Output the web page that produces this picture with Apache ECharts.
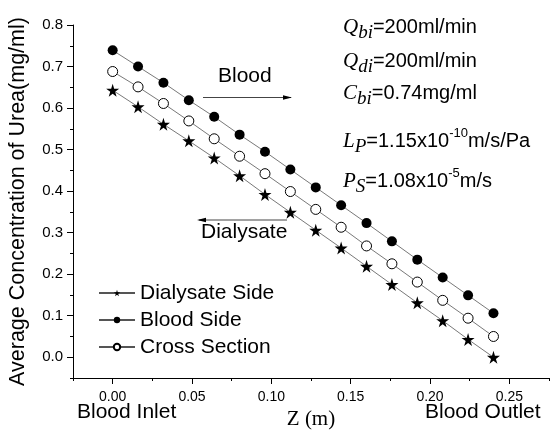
<!DOCTYPE html>
<html>
<head>
<meta charset="utf-8">
<script src="https://cdn.jsdelivr.net/npm/echarts@6/dist/echarts.min.js"></script>
<style>
  html, body { margin: 0; padding: 0; background: #fff; }
  #main { width: 555px; height: 430px; }
</style>
</head>
<body>
<div id="main"></div>
<script>
  // positions along the dialyser (m)
  var zValues = [0, 0.016, 0.032, 0.048, 0.064, 0.080, 0.096, 0.112, 0.128, 0.144, 0.160, 0.176, 0.192, 0.208, 0.224, 0.240];
  var dialysateSide = [0.643, 0.603, 0.561, 0.521, 0.480, 0.437, 0.392, 0.349, 0.306, 0.263, 0.219, 0.175, 0.131, 0.088, 0.043, 0.000];
  var bloodSide = [0.739, 0.700, 0.661, 0.619, 0.579, 0.536, 0.495, 0.452, 0.409, 0.366, 0.323, 0.279, 0.235, 0.192, 0.149, 0.106];
  var crossSection = [0.688, 0.651, 0.611, 0.569, 0.526, 0.484, 0.442, 0.399, 0.356, 0.313, 0.268, 0.225, 0.181, 0.137, 0.094, 0.050];
  var xTicks = [0, 0.05, 0.10, 0.15, 0.20, 0.25];
  var yTicks = [0, 0.1, 0.2, 0.3, 0.4, 0.5, 0.6, 0.7, 0.8];

  var sans = 'Liberation Sans';
  var serif = 'Liberation Serif';
  var star = 'path://M50,0 L61,35 L98,35 L68,57 L79,91 L50,70 L21,91 L32,57 L2,35 L39,35 Z';

  function pairs(ys) {
    return ys.map(function (v, i) { return [zValues[i], v]; });
  }

  var lineStyle = { color: '#555', width: 0.8 };

  // rich styles for the parameter block
  var paramRich = {
    v: { fontFamily: serif, fontStyle: 'italic', fontSize: 21, lineHeight: 36, verticalAlign: 'middle' },
    s: { fontFamily: serif, fontStyle: 'italic', fontSize: 19, lineHeight: 19, verticalAlign: 'bottom', padding: [0, 0, 3, 0] },
    t: { fontFamily: sans, fontSize: 20, lineHeight: 36, verticalAlign: 'middle' },
    p: { fontFamily: sans, fontSize: 13, lineHeight: 13, verticalAlign: 'top', padding: [4, 0, 0, 0] }
  };
  function param(top, text) {
    return { type: 'text', left: 343, top: top, style: { text: text, rich: paramRich, fill: '#000' } };
  }

  var myChart = echarts.init(document.getElementById('main'));
  myChart.setOption({
    animation: false,
    backgroundColor: '#fff',
    textStyle: { fontFamily: sans, color: '#000' },
    grid: { left: 73, right: 6, top: 25, bottom: 52, containLabel: false, outerBoundsMode: 'none' },
    legend: {
      orient: 'vertical',
      left: 93,
      top: 277,
      itemWidth: 36,
      itemHeight: 8,
      itemGap: 5,
      textStyle: { fontFamily: sans, fontSize: 21, color: '#000', lineHeight: 22 },
      data: ['Dialysate Side', 'Blood Side', 'Cross Section']
    },
    xAxis: [
      {
        type: 'value',
        min: -0.025,
        max: 0.275,
        position: 'bottom',
        name: 'Z (m)',
        nameLocation: 'middle',
        nameGap: 25,
        nameTextStyle: { fontFamily: serif, fontSize: 21, color: '#000' },
        axisLine: { onZero: false, lineStyle: { color: '#000', width: 1 } },
        axisTick: { customValues: xTicks, length: 6, lineStyle: { color: '#000' } },
        axisLabel: {
          customValues: xTicks,
          fontSize: 14,
          color: '#000',
          margin: 12,
          formatter: function (v) { return v.toFixed(2); }
        },
        splitLine: { show: false }
      },
      {
        type: 'value',
        min: -0.025,
        max: 0.275,
        interval: 0.025,
        position: 'bottom',
        axisLine: { show: false, onZero: false },
        axisTick: { length: 3, lineStyle: { color: '#000' } },
        axisLabel: { show: false },
        splitLine: { show: false }
      }
    ],
    yAxis: [
      {
        type: 'value',
        min: -0.05,
        max: 0.8,
        position: 'left',
        name: 'Average Concentration of Urea(mg/ml)',
        nameLocation: 'middle',
        nameGap: 44,
        nameTextStyle: { fontFamily: sans, fontSize: 21.5, color: '#000' },
        axisLine: { show: true, onZero: false, lineStyle: { color: '#000', width: 1 } },
        axisTick: { show: true, customValues: yTicks, length: 6, lineStyle: { color: '#000' } },
        axisLabel: {
          customValues: yTicks,
          fontSize: 15,
          color: '#000',
          margin: 10,
          formatter: function (v) { return v.toFixed(1); }
        },
        splitLine: { show: false }
      },
      {
        type: 'value',
        min: -0.05,
        max: 0.8,
        interval: 0.05,
        position: 'left',
        axisLine: { show: false, onZero: false },
        axisTick: { show: true, length: 3, lineStyle: { color: '#000' } },
        axisLabel: { show: false },
        splitLine: { show: false }
      }
    ],
    graphic: [
      // flow direction notes
      { type: 'text', left: 218, top: 66, style: { text: 'Blood', font: '21px ' + sans, fill: '#000' } },
      { type: 'line', shape: { x1: 203, y1: 97.5, x2: 291, y2: 97.5 }, style: { stroke: '#444', lineWidth: 1 } },
      { type: 'polygon', shape: { points: [[292, 97.5], [283, 95.3], [283, 99.7]] }, style: { fill: '#000' } },
      { type: 'text', left: 201, top: 222, style: { text: 'Dialysate', font: '21px ' + sans, fill: '#000' } },
      { type: 'line', shape: { x1: 199, y1: 220, x2: 287, y2: 220 }, style: { stroke: '#444', lineWidth: 1 } },
      { type: 'polygon', shape: { points: [[197, 220], [206, 217.8], [206, 222.2]] }, style: { fill: '#000' } },
      // inlet / outlet
      { type: 'text', left: 77, top: 402, style: { text: 'Blood Inlet', font: '21px ' + sans, fill: '#000' } },
      { type: 'text', left: 425, top: 402, style: { text: 'Blood Outlet', font: '21px ' + sans, fill: '#000' } },
      // operating parameters
      param(17, '{v|Q}{s|bi}{t|=200ml/min}'),
      param(51, '{v|Q}{s|di}{t|=200ml/min}'),
      param(83, '{v|C}{s|bi}{t|=0.74mg/ml}'),
      param(123, '{v|L}{s|P}{t|=1.15x10}{p|-10}{t|m/s/Pa}'),
      param(163, '{v|P}{s|S}{t|=1.08x10}{p|-5}{t|m/s}')
    ],
    series: [
      {
        name: 'Dialysate Side',
        type: 'line',
        data: pairs(dialysateSide),
        symbol: star,
        symbolSize: 13,
        itemStyle: { color: '#000', borderWidth: 0 },
        lineStyle: lineStyle,
        z: 3
      },
      {
        name: 'Blood Side',
        type: 'line',
        data: pairs(bloodSide),
        symbol: 'circle',
        symbolSize: 10,
        itemStyle: { color: '#000', borderWidth: 0 },
        lineStyle: lineStyle,
        z: 3
      },
      {
        name: 'Cross Section',
        type: 'line',
        data: pairs(crossSection),
        symbol: 'circle',
        symbolSize: 10,
        itemStyle: { color: '#fff', borderColor: '#000', borderWidth: 1 },
        lineStyle: lineStyle,
        z: 3
      }
    ]
  });
</script>
</body>
</html>
